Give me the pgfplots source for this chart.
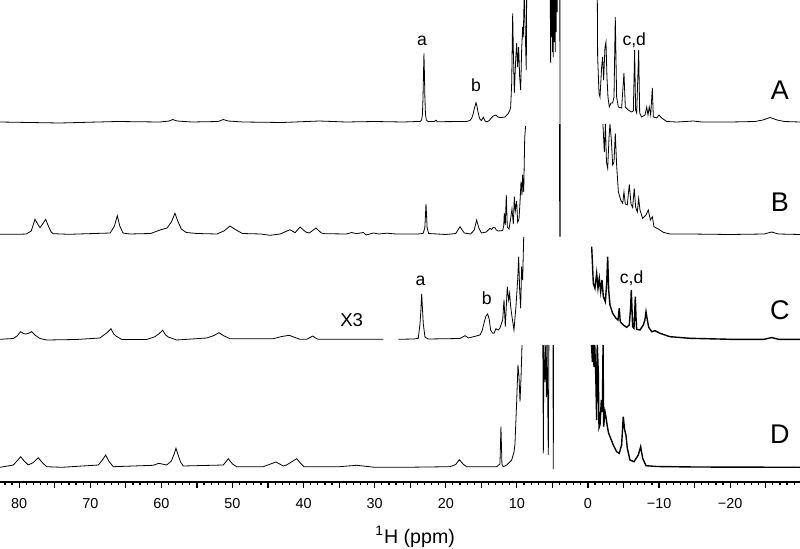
\documentclass[border=0pt]{standalone}
\usepackage{pgfplots}
\pgfplotsset{compat=1.18}
\usepackage{fontspec}
\setmainfont{Liberation Sans}

\begin{document}
\begin{tikzpicture}
\begin{axis}[
  scale only axis, width=400pt, height=241pt,
  x dir=reverse, xmin=-29.82, xmax=82.7, ymin=0, ymax=482,
  axis x line=bottom, axis y line=none,
  x axis line style={-, line width=0.65pt},
  xtick={-20,-10,...,80},
  xticklabels={−20,−10,0,10,20,30,40,50,60,70,80},
  minor xtick={-29,-28,...,82},
  extra x ticks={-25,-15,-5,5,15,25,35,45,55,65,75},
  extra x tick labels={},
  major tick length=3pt, minor tick length=1.6pt,
  xtick align=outside,
  tick style={black, line width=0.6pt},
  ytick=\empty,
  xticklabel style={font=\fontsize{7.2}{8}\selectfont, yshift=-1.5pt},
  xlabel={\textsuperscript{1}H (ppm)},
  xlabel style={at={(axis description cs:0.519,0)}, anchor=base, yshift=-30.5pt,
    font=\fontsize{9.8}{11}\selectfont},
  cycle list={{black, solid, line width=0.7pt, mark=none}},
]

% ---- trace A ----
\addplot coordinates {
(82.7,360) (74.3,359) (66.2,360.5) (60.2,360) (58.9,361) (58.4,362.5) (57.8,361)
(55.7,360) (52.0,360.5) (51.3,362.5) (50.6,361) (48.5,360) (43.0,359.5) (37.8,361)
(34.0,360) (30.0,360.5) (26.0,360) (24.0,360.5) (23.6,360.5) (23.4,362) (23.28,368)
(23.2,385) (23.13,410) (23.07,428.7) (23.01,410) (22.94,385) (22.86,368) (22.74,362)
(22.5,360.5) (21.6,360.5) (21.38,361.8) (21.2,360.3) (17.1,360.5) (16.6,361.5)
(16.36,363.7) (16.15,368) (16.03,372) (15.85,377) (15.75,379.3) (15.62,376)
(15.47,370.3) (15.3,365) (15.19,362.7) (15.0,361.5) (14.85,363) (14.72,364.7)
(14.58,362.5) (14.44,360.7) (14.16,360.3) (13.88,361.5) (13.6,364) (13.32,366)
(12.98,367) (12.61,364.7) (12.14,364.5) (11.67,365) (11.2,368.7) (10.97,372)
(10.87,375.3) (10.73,399) (10.59,468.7) (10.5,432) (10.36,389) (10.17,422)
(10.03,439) (9.89,415) (9.75,435) (9.61,405) (9.47,392) (9.33,432) (9.19,455)
(9.1,445) (8.96,490) (8.82,449) (8.68,412) (8.54,600) (5.40,600) (5.25,419)
(5.18,600) (5.12,445) (5.06,600) (4.98,430) (4.92,600) (4.88,425) (4.80,600)
(4.74,440) (4.69,600) (4.60,430) (4.54,600) (4.47,450) (4.40,600) (4.33,470)
(4.26,600) (3.97,600) (3.94,358.5) (3.91,600) (-1.22,600) (-1.36,425) (-1.55,389)
(-1.69,385) (-1.92,415) (-2.06,425) (-2.2,402) (-2.39,435) (-2.53,440) (-2.67,405)
(-2.81,385) (-3.0,375) (-3.23,379) (-3.47,379) (-3.66,385) (-3.84,465) (-4.03,385)
(-4.27,375) (-4.73,374) (-5.06,409) (-5.25,375) (-5.67,372) (-6.14,370) (-6.38,371)
(-6.56,432) (-6.7,372) (-6.85,369) (-7.13,432) (-7.27,369) (-7.55,365) (-8.02,367)
(-8.26,375) (-8.44,367) (-8.62,375) (-8.82,367) (-9.05,394) (-9.19,365) (-9.66,364)
(-9.99,367) (-10.36,364) (-11.07,360.5) (-12.5,360) (-14.8,361) (-16,360) (-20,360)
(-23.5,360.5) (-24.6,362) (-25.6,364.5) (-26.6,362) (-27.6,360.5) (-29.82,360)
};

% ---- trace B ----
\addplot coordinates {
(82.7,247.7) (80,247.7) (79.0,248) (78.3,251) (77.78,262.7) (77.4,258) (77.07,254.3)
(76.7,258) (76.27,262.7) (75.9,256) (75.5,250) (75.2,248.3) (73,247.7) (67.2,249)
(66.6,256) (66.2,266.3) (65.85,256) (65.4,249) (64.5,248) (61.5,248.5) (60.2,252)
(59.2,254) (58.6,260) (58.09,268.7) (57.7,261) (57.2,253) (56.5,249.5) (55,248.5)
(52.2,248) (51.2,251) (50.35,256) (49.6,252.5) (48.6,248.5) (46,248) (44.73,246.7)
(43.3,248) (41.91,252.3) (41.2,249.3) (40.5,255) (39.7,250) (39.2,249) (38.26,254)
(37.5,249) (37.0,248.3) (34,248) (33.24,249.5) (32.6,248.3) (31.6,249.5) (31.2,247)
(30.2,249) (29.4,248) (28.3,248.8) (27,248) (24,248) (23.2,248.5) (22.95,254)
(22.78,278) (22.62,254) (22.4,248.5) (20,247.5) (18.6,248.5) (18.0,255.3) (17.4,249)
(16.5,248) (16.0,252) (15.66,262) (15.35,254) (15.0,249) (14.3,250) (13.78,253.7)
(13.55,252.5) (13.35,254.5) (13.08,254.3) (12.9,252) (12.61,251) (12.0,251.5)
(11.85,256) (11.77,269) (11.63,257) (11.49,287) (11.35,255) (11.11,253) (10.87,263.7)
(10.69,273) (10.5,258) (10.36,285.3) (10.22,271) (10.03,281) (9.89,259.7) (9.7,263)
(9.56,280) (9.42,300.3) (9.28,287) (9.19,307) (9.04,290) (8.9,343.7) (8.82,352)
(8.78,356)
};
\addplot coordinates {(3.95,358) (3.94,245.3)};
\addplot coordinates {
(-2.1,358) (-2.3,330) (-2.45,358) (-2.6,320) (-2.77,313.7) (-2.95,343) (-3.09,358)
(-3.28,343) (-3.47,317) (-3.66,320) (-3.84,348.7) (-4.03,317) (-4.27,290.3) (-4.6,282)
(-4.88,278.7) (-5.06,290) (-5.25,278) (-5.53,277) (-5.81,297.7) (-6.05,278)
(-6.28,274.5) (-6.51,293.7) (-6.7,275) (-6.94,270) (-7.13,283.7) (-7.31,272)
(-7.69,263.7) (-8.16,267) (-8.48,272) (-8.77,262) (-9.05,265.3) (-9.28,255.3)
(-9.89,253) (-10.6,249.7) (-11.53,248) (-14.35,248) (-20,247.5) (-24.8,248)
(-25.8,250) (-26.8,248) (-29.82,247.5)
};

% ---- trace C (left part x3) ----
\addplot coordinates {
(82.7,142.7) (80.83,143.5) (80.3,146) (79.79,150.3) (79.4,148.5) (79.04,148)
(78.6,149) (78.24,150.3) (77.7,146.5) (77.07,143.5) (76.13,142) (72,142.5)
(68.64,144) (68.1,147) (67.69,149) (67.09,153.3) (66.7,148) (66.39,146) (65.58,142.5)
(62.07,142.5) (60.9,145.3) (60.3,148.5) (59.82,151.7) (59.4,147) (59.03,145)
(57.85,142) (53.63,144) (52.6,146.5) (51.9,149.3) (51.3,146.5) (50.35,143.3)
(44.26,143.3) (43.08,145.5) (42.01,146.7) (41.2,144.5) (40.51,142.7) (39.56,142.7)
(38.72,146) (38.2,143.5) (37.93,142.7) (28.79,142.7)
};
\addplot coordinates {
(26.68,142.7) (24.5,143) (23.87,143.7) (23.63,158) (23.5,172) (23.39,188) (23.27,172)
(23.16,158) (22.93,145) (22.5,143) (18.0,143.5) (17.3,146.3) (16.8,144) (15.19,147)
(14.9,151) (14.63,158.7) (14.35,166) (14.11,168) (13.9,163) (13.69,152) (13.45,149)
(13.22,148.7) (12.94,153.3) (12.75,152.3) (12.61,152) (12.38,154) (12.0,162)
(11.81,182) (11.63,155.3) (11.35,195.3) (11.16,182) (11.02,188.7) (10.87,175.3)
(10.69,165.3) (10.41,152) (10.13,175.3) (9.89,202) (9.75,225.3) (9.61,192)
(9.47,173.7) (9.33,215.3) (9.19,202) (9.04,245)
};
\addplot coordinates {
(-0.52,235.3) (-0.75,198.7) (-0.98,193.7) (-1.22,208.7) (-1.41,193.7) (-1.59,203.7)
(-1.79,190.3) (-1.97,202) (-2.16,185.3) (-2.44,180.3) (-2.63,198.7) (-2.77,225.3)
(-2.91,192) (-3.09,177) (-3.47,168.7) (-3.94,163.7) (-4.22,162) (-4.4,173.7)
(-4.54,160.3) (-4.96,157) (-5.44,154.7) (-5.81,157) (-6.0,175) (-6.09,192) (-6.18,175)
(-6.28,155.3) (-6.47,153.7) (-6.57,170) (-6.66,185.3) (-6.75,165) (-6.85,152.7)
(-7.31,152) (-7.78,157) (-8.0,162) (-8.16,170.3) (-8.35,162) (-8.54,154.7)
(-8.96,150.3) (-9.42,151.3) (-10.13,148.7) (-11.53,145.3) (-14.35,143.7) (-20,142.7)
(-24.8,142.7) (-25.84,144.5) (-26.8,142.7) (-29.82,142.7)
};

% ---- trace D ----
\addplot coordinates {
(82.7,14.7) (80.83,17) (80.3,21) (79.79,25.3) (79.3,21) (78.72,17) (78.0,19.5)
(77.32,24.3) (76.7,19) (76.13,15.3) (74,14.7) (68.87,17) (68.3,22) (67.84,27)
(67.4,21) (66.77,15.3) (61.14,16.7) (60.38,18.7) (59.26,17) (58.6,21) (58.2,28)
(57.95,33.7) (57.6,26) (57.3,20) (56.92,16) (51.29,17) (50.59,23.3) (50.0,18)
(49.41,15.3) (45.67,15.3) (43.88,20) (42.85,16) (42.4,17) (40.97,23.3) (40.4,18.5)
(39.94,15.3) (35,15.3) (32.53,16.7) (30,14.7) (26,14.7) (19.41,15.3) (18.6,17.5)
(18.1,22.3) (17.5,17.5) (17.06,15.3) (12.85,15.3) (12.38,18) (12.24,55.3) (12.1,17.5)
(11.91,15.3) (11.43,17) (10.73,22) (10.4,30) (10.27,38) (10.03,80.3) (9.85,117)
(9.7,105) (9.56,80.3) (9.42,104) (9.28,137)
};
\addplot coordinates {
(6.35,137) (6.28,28.7) (6.2,137) (6.05,100) (5.95,137) (5.85,85) (5.75,137)
(5.58,27) (5.5,137)
};
\addplot coordinates {(4.92,137) (4.88,13) (4.84,137)};
\addplot coordinates {
(-0.5,137) (-0.62,120) (-0.72,137) (-0.85,115) (-0.95,137) (-1.1,105) (-1.22,62)
(-1.3,137) (-1.45,110) (-1.55,54) (-1.69,57) (-1.88,82) (-2.02,70) (-2.12,137)
(-2.2,55.3) (-2.39,70.3) (-2.53,65.3) (-2.72,55.3) (-2.91,48.7) (-3.56,37)
(-4.03,30.3) (-4.4,28.7) (-4.73,37) (-4.96,65.3) (-5.16,52) (-5.34,47) (-5.53,33.7)
(-5.91,22) (-6.47,20.3) (-7.08,27) (-7.41,35.3) (-7.69,23.7) (-8.16,16.3)
(-9.66,15.5) (-15,15) (-29.82,14.7)
};

% ---- labels ----
\node[anchor=base, font=\fontsize{8.8}{10}\selectfont] at (axis cs:23.35,437) {a};
\node[anchor=base, font=\fontsize{8.8}{10}\selectfont] at (axis cs:15.75,390.3) {b};
\node[anchor=base, font=\fontsize{8.8}{10}\selectfont] at (axis cs:-6.51,437) {c,d};
\node[anchor=base, font=\fontsize{8.8}{10}\selectfont] at (axis cs:23.56,197) {a};
\node[anchor=base, font=\fontsize{8.8}{10}\selectfont] at (axis cs:14.25,177.7) {b};
\node[anchor=base, font=\fontsize{8.8}{10}\selectfont] at (axis cs:-6.14,198.7) {c,d};
\node[anchor=base, font=\fontsize{9.3}{11}\selectfont] at (axis cs:33.24,155.3) {X3};
\node[anchor=base, font=\fontsize{13.5}{16}\selectfont] at (axis cs:-27.0,382.7) {A};
\node[anchor=base, font=\fontsize{13.5}{16}\selectfont] at (axis cs:-27.0,270.3) {B};
\node[anchor=base, font=\fontsize{13.5}{16}\selectfont] at (axis cs:-27.0,162.7) {C};
\node[anchor=base, font=\fontsize{13.5}{16}\selectfont] at (axis cs:-27.0,38.7) {D};
\end{axis}
\pgfresetboundingbox
\path[use as bounding box] (0,-33pt) rectangle (400pt,241pt);
\end{tikzpicture}
\end{document}
